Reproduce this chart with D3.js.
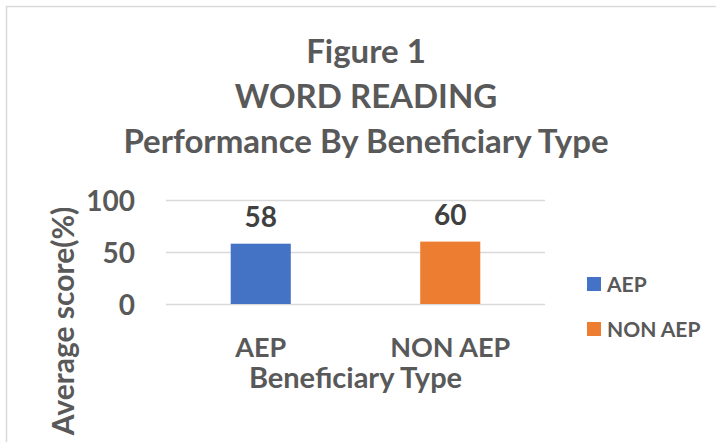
<!DOCTYPE html>
<html>

<head>
    <meta charset="utf-8">
    <title>Figure 1 - Word Reading</title>
    <script src="https://d3js.org/d3.v7.min.js"></script>
    <style>
        body {
            margin: 0;
            background: #fff;
        }

        svg text {
            font-family: Lato, "Open Sans", sans-serif;
            font-weight: bold;
        }
    </style>
</head>

<body>
    <div id="chart"></div>
    <script>
        // data
        const categories = ["AEP", "NON AEP"]
        const scores = [58, 60]
        const colors = ["#4472c4", "#ed7d31"]
        const yTicks = [0, 50, 100]
        const titleLines = ["Figure 1", "WORD READING", "Performance By Beneficiary Type"]

        const w = 716
        const h = 442
        const plot = { left: 166, right: 545, top: 200, bottom: 304 }

        const svg = d3.select("#chart")
            .append("svg")
            .attr("width", w)
            .attr("height", h)

        // chart area border (only top / left visible in the crop)
        svg.append("path")
            .attr("d", `M6.5,${h} V6.5 H${w}`)
            .attr("fill", "none")
            .attr("stroke", "#d9d9d9")
            .attr("stroke-width", 1.5)

        svg.selectAll(".title")
            .data(titleLines)
            .enter()
            .append("text")
            .attr("class", "title")
            .attr("x", 366)
            .attr("y", (d, i) => 63 + i * 45)
            .attr("text-anchor", "middle")
            .attr("fill", "#595959")
            .style("font-size", "33px")
            .text(d => d)

        const xScale = d3.scaleBand()
            .domain(categories)
            .range([plot.left, plot.right])

        const yScale = d3.scaleLinear()
            .domain([0, 100])
            .range([plot.bottom, plot.top])

        // gridlines + y labels
        const yAxis = d3.axisLeft(yScale)
            .tickValues(yTicks)
            .tickSize(-(plot.right - plot.left))
            .tickPadding(31)

        const gy = svg.append("g")
            .attr("transform", `translate(${plot.left},0)`)
            .call(yAxis)
        gy.select(".domain").remove()
        gy.selectAll("line")
            .attr("stroke", "#d9d9d9")
            .attr("stroke-width", 1.5)
        gy.selectAll("text")
            .attr("fill", "#595959")
            .style("font-size", "28px")
            .attr("dy", "0.36em")

        const barW = xScale.bandwidth() * 0.317
        const bars = categories.map((c, i) => ({ cat: c, val: scores[i], color: colors[i] }))

        svg.selectAll(".bar")
            .data(bars)
            .enter()
            .append("rect")
            .attr("class", "bar")
            .attr("x", d => xScale(d.cat) + xScale.bandwidth() / 2 - barW / 2)
            .attr("y", d => yScale(d.val))
            .attr("width", barW)
            .attr("height", d => yScale(0) - yScale(d.val))
            .attr("fill", d => d.color)

        svg.selectAll(".val")
            .data(bars)
            .enter()
            .append("text")
            .attr("class", "val")
            .attr("x", d => xScale(d.cat) + xScale.bandwidth() / 2)
            .attr("y", d => yScale(d.val) - 17)
            .attr("text-anchor", "middle")
            .attr("fill", "#404040")
            .style("font-size", "28px")
            .text(d => d.val)

        // x axis labels
        const xAxis = d3.axisBottom(xScale).tickSize(0).tickPadding(0)
        const gx = svg.append("g")
            .attr("transform", `translate(0,${plot.bottom})`)
            .call(xAxis)
        gx.select(".domain").remove()
        gx.selectAll("text")
            .attr("fill", "#595959")
            .attr("y", 53)
            .attr("dy", 0)
            .style("font-size", "27px")

        svg.append("text")
            .attr("x", (plot.left + plot.right) / 2)
            .attr("y", 388)
            .attr("text-anchor", "middle")
            .attr("fill", "#595959")
            .style("font-size", "29px")
            .text("Beneficiary Type")

        svg.append("text")
            .attr("transform", "translate(74,321) rotate(-90)")
            .attr("text-anchor", "middle")
            .attr("fill", "#595959")
            .style("font-size", "30px")
            .text("Average score(%)")

        // legend
        const legend = svg.selectAll(".legend")
            .data(bars)
            .enter()
            .append("g")
            .attr("class", "legend")
            .attr("transform", (d, i) => `translate(587,${277 + i * 45})`)

        legend.append("rect")
            .attr("width", 14)
            .attr("height", 14)
            .attr("fill", d => d.color)

        legend.append("text")
            .attr("x", 20)
            .attr("y", 15)
            .attr("fill", "#595959")
            .style("font-size", "21px")
            .text(d => d.cat)
    </script>
</body>

</html>
